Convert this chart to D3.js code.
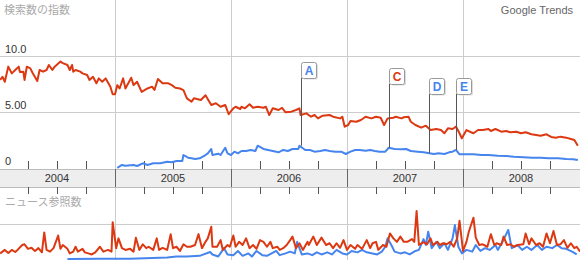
<!DOCTYPE html>
<html>
<head>
<meta charset="utf-8">
<script src="https://cdn.jsdelivr.net/npm/d3@7"></script>
<style>
  body { margin: 0; background: #fff; }
  svg { display: block; font-family: "Liberation Sans", Arial, sans-serif; }
  .jp { font-family: "Noto Sans CJK JP", sans-serif; }
</style>
</head>
<body>
<svg width="580" height="260"></svg>
<script>
// time is in decimal years
const years = [2004, 2005, 2006, 2007, 2008];
const yearLabels = ["2004", "2005", "2006", "2007", "2008"];
const yTicks = [10, 5, 0];
const yTickLabels = ["10.0", "5.00", "0"];

// search volume index (red = first term, blue = second term)
const searchRed = [
  [2004.01, 7.86], [2004.03, 8.15], [2004.05, 7.7], [2004.08, 9.05], [2004.11, 8.45], [2004.14, 8.75],
  [2004.17, 9.05], [2004.18, 8.57], [2004.21, 8.6], [2004.22, 7.86], [2004.24, 9.05], [2004.27, 8.9],
  [2004.29, 8.48], [2004.33, 7.77], [2004.35, 8.75], [2004.38, 8.6], [2004.41, 8.75], [2004.43, 9.2],
  [2004.46, 8.75], [2004.48, 9.05], [2004.53, 9.5], [2004.55, 9.37], [2004.59, 9.2], [2004.61, 8.75],
  [2004.63, 9.2], [2004.64, 8.6], [2004.66, 8.75], [2004.70, 8.6], [2004.72, 8.45], [2004.76, 8.3],
  [2004.78, 7.86], [2004.81, 8.15], [2004.84, 7.56], [2004.86, 8.0], [2004.89, 7.7], [2004.92, 8.0],
  [2004.96, 7.26], [2004.98, 6.58], [2005.00, 6.58], [2005.02, 7.4], [2005.04, 7.1], [2005.07, 8.0],
  [2005.09, 7.1], [2005.14, 8.06], [2005.16, 7.4], [2005.19, 7.7], [2005.23, 6.8], [2005.28, 7.1],
  [2005.32, 7.26], [2005.34, 6.96], [2005.37, 7.95], [2005.41, 7.56], [2005.46, 7.56], [2005.49, 7.4],
  [2005.52, 7.17], [2005.56, 7.1], [2005.59, 6.96], [2005.62, 6.22], [2005.66, 5.92], [2005.68, 6.22],
  [2005.74, 6.07], [2005.78, 6.5], [2005.83, 5.63], [2005.87, 5.78], [2005.91, 5.47], [2005.95, 5.63],
  [2005.98, 4.8], [2006.02, 5.33], [2006.04, 5.47], [2006.08, 5.27], [2006.09, 5.47], [2006.12, 5.33],
  [2006.16, 5.69], [2006.19, 5.38], [2006.23, 5.47], [2006.28, 5.38], [2006.30, 5.47], [2006.33, 4.73],
  [2006.36, 5.33], [2006.41, 5.18], [2006.44, 5.38], [2006.47, 4.97], [2006.52, 5.03], [2006.56, 5.18],
  [2006.59, 5.33], [2006.60, 4.73], [2006.65, 4.88], [2006.69, 4.58], [2006.72, 4.73], [2006.75, 4.43],
  [2006.79, 4.67], [2006.85, 4.73], [2006.88, 4.58], [2006.94, 4.43], [2006.96, 4.58], [2006.98, 3.69],
  [2007.01, 3.84], [2007.03, 4.2], [2007.08, 4.13], [2007.12, 4.29], [2007.16, 4.58], [2007.21, 4.43],
  [2007.25, 4.58], [2007.29, 4.49], [2007.32, 3.84], [2007.35, 4.43], [2007.40, 4.49], [2007.42, 4.58],
  [2007.47, 4.43], [2007.49, 4.53], [2007.53, 4.58], [2007.55, 4.13], [2007.59, 3.84], [2007.64, 3.6],
  [2007.68, 3.78], [2007.72, 3.39], [2007.77, 3.48], [2007.81, 3.39], [2007.84, 3.1], [2007.87, 3.54],
  [2007.91, 3.48], [2007.94, 3.69], [2007.97, 3.1], [2007.99, 2.65], [2008.03, 3.39], [2008.07, 3.19],
  [2008.09, 3.1], [2008.13, 3.39], [2008.17, 3.39], [2008.22, 3.48], [2008.24, 3.3], [2008.28, 3.48],
  [2008.33, 3.24], [2008.37, 3.3], [2008.41, 3.19], [2008.46, 3.24], [2008.50, 3.1], [2008.54, 3.19],
  [2008.59, 3.01], [2008.63, 2.95], [2008.67, 2.88], [2008.72, 3.01], [2008.76, 2.77], [2008.80, 2.71],
  [2008.84, 2.8], [2008.89, 2.71], [2008.93, 2.59], [2008.96, 2.5], [2008.99, 1.99]
];

const searchBlue = [
  [2005.02, 0.02], [2005.06, 0.27], [2005.09, 0.2], [2005.16, 0.27], [2005.19, 0.18], [2005.24, 0.42],
  [2005.28, 0.27], [2005.33, 0.42], [2005.39, 0.42], [2005.45, 0.56], [2005.49, 0.51], [2005.53, 0.63],
  [2005.58, 0.63], [2005.59, 1.16], [2005.63, 0.92], [2005.66, 0.87], [2005.69, 0.8], [2005.73, 0.87],
  [2005.78, 1.16], [2005.80, 1.31], [2005.83, 1.7], [2005.84, 1.16], [2005.89, 1.28], [2005.91, 1.16],
  [2005.95, 1.81], [2005.97, 1.31], [2006.00, 1.16], [2006.03, 1.46], [2006.06, 1.31], [2006.09, 1.52],
  [2006.13, 1.52], [2006.17, 1.61], [2006.21, 1.52], [2006.23, 1.99], [2006.28, 1.7], [2006.32, 1.61],
  [2006.36, 1.52], [2006.41, 1.4], [2006.45, 1.61], [2006.49, 1.52], [2006.53, 1.7], [2006.58, 1.7],
  [2006.59, 1.99], [2006.64, 1.61], [2006.68, 1.61], [2006.72, 1.46], [2006.77, 1.52], [2006.81, 1.61],
  [2006.85, 1.52], [2006.90, 1.46], [2006.95, 1.46], [2006.99, 1.25], [2007.03, 1.46], [2007.07, 1.61],
  [2007.11, 1.61], [2007.16, 1.54], [2007.20, 1.61], [2007.24, 1.52], [2007.28, 1.46], [2007.33, 1.46],
  [2007.36, 1.81], [2007.41, 1.7], [2007.47, 1.67], [2007.51, 1.7], [2007.55, 1.52], [2007.61, 1.46],
  [2007.66, 1.4], [2007.71, 1.31], [2007.75, 1.25], [2007.79, 1.31], [2007.84, 1.25], [2007.88, 1.4],
  [2007.91, 1.46], [2007.94, 1.61], [2007.97, 1.22], [2008.01, 1.22], [2008.09, 1.22], [2008.16, 1.16],
  [2008.22, 1.16], [2008.30, 1.1], [2008.37, 1.07], [2008.44, 1.01], [2008.52, 0.96], [2008.60, 0.92],
  [2008.67, 0.92], [2008.74, 0.87], [2008.82, 0.87], [2008.89, 0.8], [2008.95, 0.78], [2008.99, 0.71]
];

// news reference volume
const newsRed = [
  [2004.01, 0.16], [2004.05, 0.26], [2004.08, 0.17], [2004.11, 0.26], [2004.14, 0.2], [2004.16, 0.26],
  [2004.20, 0.4], [2004.22, 0.42], [2004.25, 0.29], [2004.28, 0.32], [2004.31, 0.23], [2004.34, 0.31],
  [2004.37, 0.19], [2004.39, 0.76], [2004.41, 0.26], [2004.44, 0.21], [2004.47, 0.31], [2004.51, 0.67],
  [2004.53, 0.29], [2004.55, 0.4], [2004.59, 0.29], [2004.61, 0.16], [2004.64, 0.21], [2004.66, 0.35],
  [2004.68, 0.21], [2004.72, 0.29], [2004.74, 0.19], [2004.77, 0.16], [2004.80, 0.13], [2004.83, 0.19],
  [2004.87, 0.35], [2004.90, 0.21], [2004.94, 0.26], [2004.97, 0.21], [2004.98, 1.05], [2005.01, 0.31],
  [2005.03, 0.59], [2005.06, 0.31], [2005.09, 0.26], [2005.13, 0.29], [2005.16, 0.21], [2005.18, 0.61],
  [2005.21, 0.26], [2005.24, 0.42], [2005.27, 0.31], [2005.29, 0.35], [2005.33, 0.26], [2005.36, 0.59],
  [2005.38, 0.26], [2005.41, 0.32], [2005.45, 0.26], [2005.48, 0.71], [2005.50, 0.31], [2005.53, 0.35],
  [2005.56, 0.23], [2005.59, 0.42], [2005.62, 0.35], [2005.65, 0.35], [2005.69, 0.4], [2005.72, 0.71],
  [2005.75, 0.31], [2005.78, 0.49], [2005.80, 0.59], [2005.83, 0.92], [2005.84, 0.35], [2005.88, 0.35],
  [2005.91, 0.54], [2005.93, 0.26], [2005.97, 0.4], [2005.99, 0.35], [2006.02, 0.67], [2006.04, 0.35],
  [2006.07, 0.49], [2006.10, 0.4], [2006.13, 0.59], [2006.16, 0.31], [2006.19, 0.4], [2006.22, 0.29],
  [2006.25, 0.54], [2006.28, 0.49], [2006.31, 0.35], [2006.34, 0.49], [2006.36, 0.31], [2006.40, 0.35],
  [2006.42, 0.26], [2006.45, 0.31], [2006.48, 0.4], [2006.51, 0.54], [2006.53, 0.64], [2006.56, 0.31],
  [2006.59, 0.45], [2006.62, 0.26], [2006.66, 0.49], [2006.67, 0.4], [2006.71, 0.64], [2006.74, 0.4],
  [2006.78, 0.61], [2006.82, 0.4], [2006.85, 0.45], [2006.88, 0.31], [2006.91, 0.45], [2006.94, 0.32],
  [2006.97, 0.54], [2007.00, 0.26], [2007.03, 0.4], [2007.07, 0.29], [2007.09, 0.4], [2007.13, 0.29],
  [2007.17, 0.54], [2007.20, 0.31], [2007.22, 0.45], [2007.25, 0.49], [2007.27, 0.26], [2007.31, 0.4],
  [2007.34, 0.35], [2007.37, 0.73], [2007.40, 0.59], [2007.43, 0.49], [2007.46, 0.64], [2007.49, 0.49],
  [2007.52, 0.49], [2007.56, 0.57], [2007.58, 0.49], [2007.60, 1.37], [2007.62, 0.4], [2007.66, 0.48],
  [2007.69, 0.42], [2007.72, 0.59], [2007.74, 0.4], [2007.78, 0.49], [2007.80, 0.4], [2007.83, 0.45],
  [2007.86, 0.42], [2007.89, 0.49], [2007.92, 0.35], [2007.95, 0.59], [2007.97, 1.09], [2008.00, 0.23],
  [2008.03, 0.49], [2008.05, 0.78], [2008.09, 1.18], [2008.11, 0.61], [2008.14, 0.4], [2008.17, 0.42],
  [2008.21, 0.35], [2008.24, 0.71], [2008.27, 0.4], [2008.29, 0.45], [2008.33, 0.4], [2008.35, 0.64],
  [2008.38, 0.4], [2008.41, 0.42], [2008.44, 0.35], [2008.47, 0.4], [2008.52, 0.42], [2008.54, 0.73],
  [2008.57, 0.42], [2008.59, 0.59], [2008.63, 0.4], [2008.66, 0.45], [2008.69, 0.35], [2008.72, 0.73],
  [2008.75, 0.45], [2008.78, 0.8], [2008.81, 0.4], [2008.84, 0.42], [2008.87, 0.54], [2008.90, 0.32],
  [2008.93, 0.45], [2008.96, 0.31], [2008.98, 0.35], [2009.01, 0.21]
];

const newsBlue = [
  [2004.59, 0.0], [2004.87, 0.01], [2005.13, 0.01], [2005.45, 0.04], [2005.53, 0.07], [2005.62, 0.07],
  [2005.73, 0.09], [2005.82, 0.2], [2005.84, 0.13], [2005.89, 0.07], [2005.94, 0.31], [2005.97, 0.13],
  [2006.02, 0.11], [2006.06, 0.23], [2006.10, 0.09], [2006.15, 0.16], [2006.18, 0.07], [2006.22, 0.23],
  [2006.27, 0.11], [2006.31, 0.09], [2006.35, 0.16], [2006.39, 0.23], [2006.42, 0.11], [2006.47, 0.16],
  [2006.51, 0.21], [2006.55, 0.16], [2006.57, 0.49], [2006.61, 0.13], [2006.66, 0.16], [2006.70, 0.11],
  [2006.74, 0.19], [2006.78, 0.13], [2006.83, 0.19], [2006.87, 0.13], [2006.91, 0.26], [2006.96, 0.16],
  [2007.00, 0.13], [2007.04, 0.23], [2007.09, 0.19], [2007.13, 0.26], [2007.17, 0.19], [2007.22, 0.16],
  [2007.26, 0.13], [2007.30, 0.21], [2007.33, 0.35], [2007.35, 0.59], [2007.39, 0.35], [2007.41, 0.21],
  [2007.46, 0.16], [2007.50, 0.19], [2007.54, 0.13], [2007.59, 0.23], [2007.62, 0.26], [2007.66, 0.57],
  [2007.68, 0.4], [2007.70, 0.78], [2007.73, 0.31], [2007.77, 0.49], [2007.80, 0.31], [2007.84, 0.45],
  [2007.87, 0.26], [2007.91, 0.59], [2007.93, 0.97], [2007.96, 0.35], [2007.99, 0.16], [2008.03, 0.26],
  [2008.08, 0.21], [2008.11, 0.4], [2008.15, 0.23], [2008.19, 0.31], [2008.23, 0.26], [2008.28, 0.4],
  [2008.30, 0.26], [2008.34, 0.49], [2008.39, 0.83], [2008.42, 0.31], [2008.47, 0.4], [2008.51, 0.26],
  [2008.55, 0.35], [2008.59, 0.26], [2008.64, 0.4], [2008.68, 0.26], [2008.72, 0.35], [2008.77, 0.31],
  [2008.81, 0.4], [2008.85, 0.31], [2008.89, 0.29], [2008.94, 0.21], [2008.98, 0.13]
];

// news event flags
const flagLabels = ["A", "C", "D", "E"];
const flagDates = [2006.60, 2007.36, 2007.71, 2007.94];
const flagValues = [1.99, 1.81, 1.31, 1.61];
const flagSeries = ["blue", "red", "blue", "blue"];

const RED = "#dc3912", BLUE = "#4684ee";
const flagTops = [62, 68, 78, 78];

const svg = d3.select("svg");
const width = +svg.attr("width");

const x = d3.scaleLinear().domain([2004, 2009]).range([-1, 579]);
const yTop = d3.scaleLinear().domain([0, 10]).range([168, 56]);
const yNews = d3.scaleLinear().domain([0, 1]).range([259, 224]);

const bandTop = 169, bandBottom = 187;

// vertical year gridlines
const grid = svg.append("g").attr("stroke", "#ccc").attr("shape-rendering", "crispEdges");
grid.selectAll(".vg")
  .data(years.slice(1))
  .enter().append("line")
  .attr("x1", d => Math.round(x(d)) + 0.5).attr("x2", d => Math.round(x(d)) + 0.5)
  .attr("y1", 0).attr("y2", 260);

// horizontal gridlines, search panel
grid.selectAll(".hg")
  .data(yTicks.filter(d => d > 0))
  .enter().append("line")
  .attr("x1", 0).attr("x2", width)
  .attr("y1", d => Math.round(yTop(d)) + 0.5).attr("y2", d => Math.round(yTop(d)) + 0.5);

// horizontal gridline, news panel
grid.append("line")
  .attr("x1", 0).attr("x2", width)
  .attr("y1", Math.round(yNews(1)) + 0.5).attr("y2", Math.round(yNews(1)) + 0.5);

// time band
svg.append("rect")
  .attr("x", 0).attr("y", bandTop)
  .attr("width", width).attr("height", bandBottom - bandTop)
  .attr("fill", "#eeeeee");
svg.append("g").attr("stroke", "#bbb").attr("shape-rendering", "crispEdges")
  .selectAll("line").data([bandTop, bandBottom]).enter().append("line")
  .attr("x1", 0).attr("x2", width)
  .attr("y1", d => d + 0.5).attr("y2", d => d + 0.5);

// year separators inside band
svg.append("g").attr("stroke", "#666").attr("shape-rendering", "crispEdges")
  .selectAll("line").data(years.slice(1)).enter().append("line")
  .attr("x1", d => Math.round(x(d)) + 0.5).attr("x2", d => Math.round(x(d)) + 0.5)
  .attr("y1", bandTop).attr("y2", bandBottom);

// quarter ticks above and below band
const quarters = [];
years.forEach(yr => [0.25, 0.5, 0.75].forEach(q => quarters.push(yr + q)));
const qt = svg.append("g").attr("stroke", "#555").attr("shape-rendering", "crispEdges");
qt.selectAll(".qa").data(quarters).enter().append("line")
  .attr("x1", d => Math.round(x(d)) + 0.5).attr("x2", d => Math.round(x(d)) + 0.5)
  .attr("y1", 161).attr("y2", bandTop);
qt.selectAll(".qb").data(quarters).enter().append("line")
  .attr("x1", d => Math.round(x(d)) + 0.5).attr("x2", d => Math.round(x(d)) + 0.5)
  .attr("y1", bandBottom).attr("y2", 194);

// year labels
svg.append("g").selectAll("text")
  .data(years).enter().append("text")
  .attr("x", d => x(d + 0.5))
  .attr("y", 182)
  .attr("text-anchor", "middle")
  .attr("font-size", 11)
  .attr("fill", "#333")
  .text((d, i) => yearLabels[i]);

// y tick labels
svg.append("g").selectAll("text")
  .data(yTicks).enter().append("text")
  .attr("x", 5)
  .attr("y", d => yTop(d) - 3)
  .attr("font-size", 11)
  .attr("fill", "#333")
  .text((d, i) => yTickLabels[i]);

// titles
svg.append("text").attr("class", "jp")
  .attr("x", 4).attr("y", 14)
  .attr("font-size", 11).attr("fill", "#aaa")
  .text("検索数の指数");
svg.append("text")
  .attr("x", 573).attr("y", 14)
  .attr("text-anchor", "end")
  .attr("font-size", 11).attr("fill", "#666")
  .text("Google Trends");
svg.append("text").attr("class", "jp")
  .attr("x", 5).attr("y", 206)
  .attr("font-size", 11).attr("fill", "#aaa")
  .text("ニュース参照数");

// lines
const lineTop = d3.line().x(d => x(d[0])).y(d => yTop(d[1]));
const lineNews = d3.line().x(d => x(d[0])).y(d => yNews(d[1]));

function drawLine(data, gen, color) {
  svg.append("path")
    .datum(data)
    .attr("fill", "none")
    .attr("stroke", color)
    .attr("stroke-width", 2)
    .attr("stroke-linejoin", "round")
    .attr("d", gen);
}

drawLine(newsBlue, lineNews, BLUE);
drawLine(newsRed, lineNews, RED);
drawLine(searchRed, lineTop, RED);
drawLine(searchBlue, lineTop, BLUE);

// flags
const flags = svg.append("g").selectAll("g")
  .data(flagLabels).enter().append("g")
  .attr("transform", (d, i) => `translate(${Math.round(x(flagDates[i])) + 0.5},0)`);

flags.append("line")
  .attr("x1", 0).attr("x2", 0)
  .attr("y1", (d, i) => flagTops[i] + 16)
  .attr("y2", (d, i) => yTop(flagValues[i]))
  .attr("stroke", "#555");

flags.append("rect")
  .attr("x", 1.5).attr("y", (d, i) => flagTops[i] + 1.5)
  .attr("width", 15).attr("height", 16)
  .attr("rx", 2)
  .attr("fill", "#ddd");

flags.append("rect")
  .attr("x", 0).attr("y", (d, i) => flagTops[i] + 0.5)
  .attr("width", 15).attr("height", 16)
  .attr("rx", 2)
  .attr("fill", "#fff")
  .attr("stroke", "#999");

flags.append("text")
  .attr("x", 7.5)
  .attr("y", (d, i) => flagTops[i] + 13)
  .attr("text-anchor", "middle")
  .attr("font-size", 12)
  .attr("font-weight", "bold")
  .attr("fill", (d, i) => flagSeries[i] === "red" ? RED : BLUE)
  .text(d => d);
</script>
</body>
</html>
